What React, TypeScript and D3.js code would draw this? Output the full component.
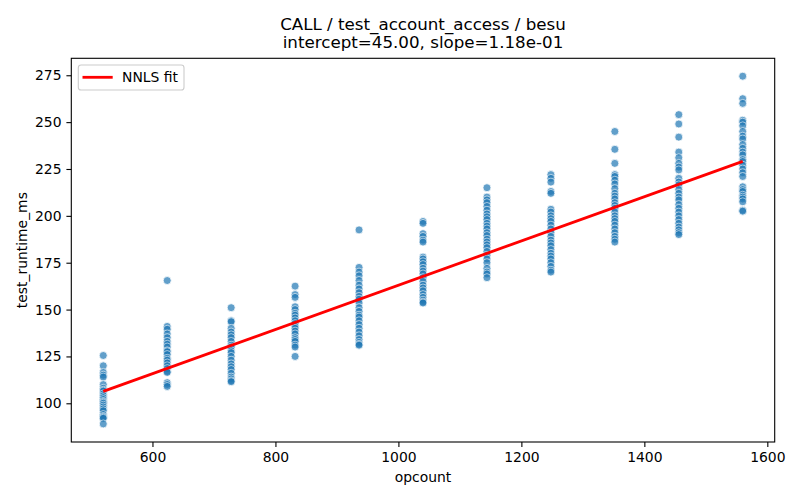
import React, { useRef, useEffect } from 'react';
import * as d3 from 'd3';

// opcount columns and the runtimes
const opcounts: number[] = [520, 624, 728, 832, 936, 1040, 1144, 1248, 1352, 1456, 1560];

const runtimes: number[][] = [
    [125.5, 120, 116.5, 115, 114, 110, 108, 107, 106.5, 105, 104, 103, 102, 101, 100.5, 100, 99, 98, 97, 96, 94, 93, 92.5, 92, 89],
    [165.5, 141, 139.5, 137, 135, 133, 131.5, 130, 128, 127.5, 126, 124, 123, 121.5, 120, 118.5, 117, 116.5, 111, 110, 109],
    [151, 144, 143.5, 140, 138, 136.5, 135, 133, 131, 130, 128, 127, 125, 123, 121, 119.5, 118, 116, 114, 113, 112, 111.5],
    [162.5, 158, 156.5, 151.5, 150, 148, 147, 145.5, 144, 142.5, 141, 140, 138.5, 137, 135, 134, 133, 131, 130, 125],
    [192.5, 172.5, 170, 168, 165.5, 163, 161, 159, 157, 155.5, 153.5, 151, 149, 147, 146, 144, 142, 140, 138, 136, 134, 132.5, 131.5, 131],
    [197, 196, 190.5, 189, 187, 186, 178, 177, 175.5, 174, 172, 170.5, 169, 167, 165, 163, 161.5, 160, 158, 156.5, 155, 154, 153.5],
    [215, 210, 208.5, 207, 205, 203, 201, 199.5, 198, 196, 194.5, 193, 191, 189.5, 187.5, 186, 184.5, 183, 181, 179, 177, 175, 172, 170, 169, 167],
    [222, 220, 218, 213, 212, 203.5, 202, 200, 198.5, 197, 195, 193, 191, 189, 187, 185.5, 184, 182, 180, 178.5, 177, 175, 173, 171, 170],
    [245, 235.5, 228, 222, 221, 219, 217, 214.5, 212, 210.5, 209, 207, 205.5, 204, 202, 200, 198.5, 197, 195, 193, 191, 189, 187.5, 186],
    [254, 249, 242, 234, 231, 228, 226, 224.5, 220, 218, 216.5, 214, 212, 210, 208.5, 206, 204, 202, 200, 198, 196, 194, 192.5, 191, 190],
    [274.5, 262.5, 260, 251, 250, 248, 245, 242.5, 241, 238, 236, 234, 232.5, 230, 229, 227, 225, 223, 221, 215.5, 214, 213, 211, 210, 209, 207.5, 203, 202.5],
];

const xTicks: number[] = [600, 800, 1000, 1200, 1400, 1600];
const yTicks: number[] = [100, 125, 150, 175, 200, 225, 250, 275];

const intercept = 45.0;
const slope = 0.118;

const titleLines: string[] = ['CALL / test_account_access / besu', 'intercept=45.00, slope=1.18e-01'];

interface Point {
    x: number;
    y: number;
}

export default function App() {
    const width = 800;
    const height = 500;
    const marginL = 71.3;
    const marginR = 25.3;
    const marginT = 58.3;
    const marginB = 58;

    const svgRef = useRef<SVGSVGElement>(null);

    useEffect(() => {
        if (!svgRef.current) return;
        const svg = d3.select(svgRef.current);
        svg.selectAll('*').remove();

        const points: Point[] = [];
        opcounts.forEach((x, i) => runtimes[i].forEach(y => points.push({ x, y })));

        const xScale = d3.scaleLinear()
            .domain([468, 1612])
            .range([marginL, width - marginR]);

        const yScale = d3.scaleLinear()
            .domain([79.35, 284.05])
            .range([height - marginB, marginT]);

        const font = 'DejaVu Sans, sans-serif';

        // scatter
        svg.append('g')
            .selectAll('circle')
            .data(points)
            .enter()
            .append('circle')
            .attr('cx', d => xScale(d.x))
            .attr('cy', d => yScale(d.y))
            .attr('r', 4)
            .attr('fill', '#1f77b4')
            .attr('stroke', 'white')
            .attr('stroke-width', 0.8)
            .attr('opacity', 0.7);

        // NNLS fit line
        const xmin = d3.min(opcounts)!;
        const xmax = d3.max(opcounts)!;
        const fit = d3.line<number>()
            .x(d => xScale(d))
            .y(d => yScale(intercept + slope * d));
        svg.append('path')
            .datum([xmin, xmax])
            .attr('d', fit)
            .attr('fill', 'none')
            .attr('stroke', 'red')
            .attr('stroke-width', 2.8);

        // axes
        const xAxis = svg.append('g')
            .attr('transform', `translate(0,${height - marginB})`)
            .call(d3.axisBottom(xScale).tickValues(xTicks).tickFormat(d3.format('d')).tickSize(4.9).tickPadding(4.9).tickSizeOuter(0));
        const yAxis = svg.append('g')
            .attr('transform', `translate(${marginL},0)`)
            .call(d3.axisLeft(yScale).tickValues(yTicks).tickFormat(d3.format('d')).tickSize(4.9).tickPadding(4.9).tickSizeOuter(0));

        [xAxis, yAxis].forEach(ax => {
            ax.select('.domain').remove();
            ax.selectAll('line').attr('stroke', 'black').attr('stroke-width', 1.1);
            ax.selectAll('text').attr('font-family', font).attr('font-size', 13.9).attr('fill', 'black');
        });

        // spines
        svg.append('rect')
            .attr('x', marginL)
            .attr('y', marginT)
            .attr('width', width - marginL - marginR)
            .attr('height', height - marginT - marginB)
            .attr('fill', 'none')
            .attr('stroke', 'black')
            .attr('stroke-width', 1.1);

        // labels
        svg.append('text')
            .attr('x', (marginL + width - marginR) / 2)
            .attr('y', 482)
            .attr('text-anchor', 'middle')
            .attr('font-family', font)
            .attr('font-size', 13.9)
            .text('opcount');

        svg.append('text')
            .attr('transform', `translate(26.5,${(marginT + height - marginB) / 2}) rotate(-90)`)
            .attr('text-anchor', 'middle')
            .attr('font-family', font)
            .attr('font-size', 13.9)
            .text('test_runtime_ms');

        svg.selectAll('.title')
            .data(titleLines)
            .enter()
            .append('text')
            .attr('class', 'title')
            .attr('x', (marginL + width - marginR) / 2)
            .attr('y', (d, i) => 29.8 + i * 17.8)
            .attr('text-anchor', 'middle')
            .attr('font-family', font)
            .attr('font-size', 16.7)
            .text(d => d);

        // legend
        const legend = svg.append('g');
        legend.append('rect')
            .attr('x', 78.3)
            .attr('y', 65)
            .attr('width', 105.7)
            .attr('height', 25)
            .attr('rx', 2.8)
            .attr('fill', 'white')
            .attr('fill-opacity', 0.8)
            .attr('stroke', '#cccccc')
            .attr('stroke-width', 1.1);
        legend.append('line')
            .attr('x1', 82.5)
            .attr('x2', 112.7)
            .attr('y1', 77.3)
            .attr('y2', 77.3)
            .attr('stroke', 'red')
            .attr('stroke-width', 2.8);
        legend.append('text')
            .attr('x', 122)
            .attr('y', 82)
            .attr('font-family', font)
            .attr('font-size', 13.9)
            .text('NNLS fit');
    }, []);

    return <svg ref={svgRef} width={width} height={height} style={{ position: 'absolute', left: 0, top: 0, background: 'white' }} />;
}
